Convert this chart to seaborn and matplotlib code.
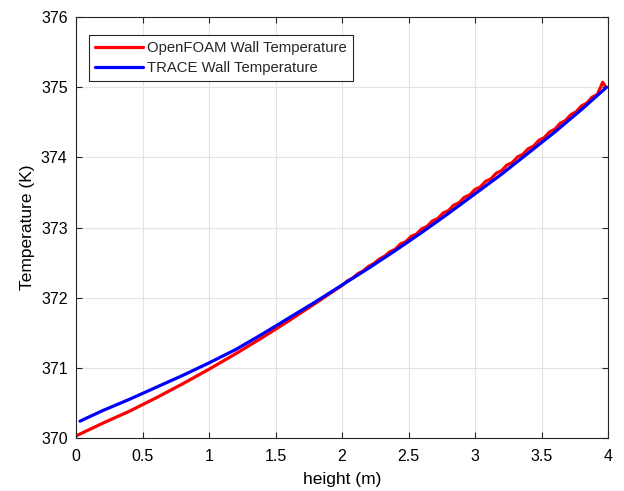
import pandas as pd
import matplotlib
matplotlib.use("Agg")
import matplotlib.pyplot as plt
import seaborn as sns

# data (OpenFOAM curve has a small saw-tooth above ~2 m)
openfoam_height = [0.0, 0.2, 0.4, 0.6, 0.8, 1.0, 1.2, 1.4, 1.6, 1.8,
                   2.00, 2.04, 2.08, 2.12, 2.16, 2.20, 2.24, 2.28, 2.32, 2.36,
                   2.40, 2.44, 2.48, 2.52, 2.56, 2.60, 2.64, 2.68, 2.72, 2.76,
                   2.80, 2.84, 2.88, 2.92, 2.96, 3.00, 3.04, 3.08, 3.12, 3.16,
                   3.20, 3.24, 3.28, 3.32, 3.36, 3.40, 3.44, 3.48, 3.52, 3.56,
                   3.60, 3.64, 3.68, 3.72, 3.76, 3.80, 3.84, 3.88, 3.92, 3.96, 3.98]
openfoam_temp = [370.03, 370.21, 370.38, 370.57, 370.77, 370.98, 371.20, 371.43, 371.67, 371.92,
                 372.174, 372.238, 372.278, 372.342, 372.382, 372.446, 372.486, 372.550, 372.590, 372.654,
                 372.690, 372.766, 372.798, 372.874, 372.906, 372.982, 373.016, 373.094, 373.128, 373.206,
                 373.240, 373.318, 373.352, 373.430, 373.464, 373.542, 373.578, 373.658, 373.694, 373.774,
                 373.810, 373.890, 373.926, 374.006, 374.042, 374.122, 374.160, 374.242, 374.280, 374.362,
                 374.400, 374.484, 374.524, 374.608, 374.648, 374.732, 374.772, 374.856, 374.896, 375.07, 375.01]

trace_height = [0.03, 0.2, 0.4, 0.6, 0.8, 1.0, 1.2, 1.4, 1.6, 1.8, 2.0,
                2.2, 2.4, 2.6, 2.8, 3.0, 3.2, 3.4, 3.6, 3.8, 3.99]
trace_temp = [370.24, 370.39, 370.55, 370.72, 370.89, 371.07, 371.26, 371.48,
              371.71, 371.94, 372.18, 372.42, 372.67, 372.93, 373.20, 373.48,
              373.76, 374.06, 374.36, 374.68, 375.00]

x_ticks = [0, 0.5, 1, 1.5, 2, 2.5, 3, 3.5, 4]
x_tick_labels = ["0", "0.5", "1", "1.5", "2", "2.5", "3", "3.5", "4"]
y_ticks = [370, 371, 372, 373, 374, 375, 376]

series_names = ["OpenFOAM Wall Temperature", "TRACE Wall Temperature"]

df = pd.concat([
    pd.DataFrame({"height": openfoam_height, "temp": openfoam_temp, "series": series_names[0]}),
    pd.DataFrame({"height": trace_height, "temp": trace_temp, "series": series_names[1]}),
])

sns.set_theme(style="whitegrid")
plt.rcParams["font.family"] = ["Liberation Sans", "DejaVu Sans"]

dark = "#262626"
fig = plt.figure(figsize=(6.24, 4.91), dpi=100)
ax = fig.add_axes([76 / 624, 1 - 438 / 491, 532 / 624, 421 / 491])

sns.lineplot(data=df, x="height", y="temp", hue="series",
             palette={series_names[0]: "#ff0000", series_names[1]: "#0000ff"},
             estimator=None, sort=False, linewidth=2.3, ax=ax)

ax.set_xlim(0, 4)
ax.set_ylim(370, 376)
ax.set_xticks(x_ticks)
ax.set_xticklabels(x_tick_labels)
ax.set_yticks(y_ticks)
ax.grid(True, color="#e3e3e3", linewidth=0.8)
ax.set_facecolor("white")
for s in ax.spines.values():
    s.set_visible(True)
    s.set_color(dark)
    s.set_linewidth(0.8)
ax.tick_params(axis="both", which="both", direction="in", length=4, width=0.8,
               color=dark, labelcolor="black", labelsize=11.5,
               top=True, right=True, bottom=True, left=True)
ax.tick_params(axis="x", pad=8)
ax.tick_params(axis="y", pad=6)

ax.set_xlabel("height (m)", fontsize=12.5, color="black", labelpad=6)
ax.set_ylabel("Temperature (K)", fontsize=12.5, color="black", labelpad=4)

leg = ax.legend(loc="upper left", bbox_to_anchor=((89 - 76) / 532, (438 - 35) / 421),
                fontsize=10.7, frameon=True, fancybox=False, framealpha=1,
                edgecolor=dark, borderaxespad=0, borderpad=0.4,
                handlelength=3.2, handletextpad=0.3, labelspacing=0.4, title=None)
leg.get_frame().set_linewidth(0.8)

fig.savefig("out.png", dpi=100)
